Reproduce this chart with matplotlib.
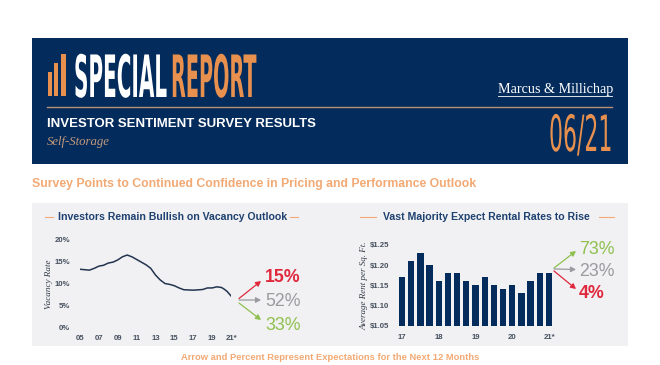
"""Self-storage investor sentiment report header with two small charts"""
import matplotlib.pyplot as plt
from matplotlib.patches import Rectangle
from matplotlib.patheffects import AbstractPathEffect
from matplotlib.text import Text
from matplotlib.transforms import Affine2D, Bbox

# Vacancy rate, 05 to 21*
vac_years = [2005, 2005.5, 2006, 2006.5, 2007, 2007.5, 2008, 2008.5, 2009, 2009.5,
             2010, 2010.5, 2011, 2011.5, 2012, 2012.5, 2013, 2013.5, 2014, 2014.5,
             2015, 2015.5, 2016, 2017, 2018, 2018.5, 2019, 2019.5, 2020, 2020.3,
             2020.6, 2021]
vac_rate = [13.2, 13.1, 13.0, 13.4, 13.9, 14.1, 14.6, 14.8, 15.3, 16.0,
            16.4, 16.0, 15.4, 14.8, 14.2, 13.4, 11.9, 10.8, 10.0, 9.8,
            9.5, 9.0, 8.6, 8.5, 8.65, 9.0, 9.0, 9.25, 9.1, 8.7,
            8.2, 7.2]
vac_ticks = [2005, 2007, 2009, 2011, 2013, 2015, 2017, 2019, 2021]
vac_ticklabels = ['05', '07', '09', '11', '13', '15', '17', '19', '21*']
vac_yticks = [0, 5, 10, 15, 20]

# Average rent per sq. ft., quarterly
rent = [1.17, 1.21, 1.23, 1.20, 1.16, 1.18, 1.18, 1.16, 1.15,
        1.17, 1.15, 1.14, 1.15, 1.13, 1.16, 1.18, 1.18]
rent_ticks = [0, 4, 8, 12, 16]
rent_ticklabels = ['17', '18', '19', '20', '21*']
rent_yticks = [1.05, 1.10, 1.15, 1.20, 1.25]

# Expectations for the next 12 months
vac_expect = ['15%', '52%', '33%']
rent_expect = ['73%', '23%', '4%']

NAVY = '#032b5c'
ORANGE = '#e8914f'
SOFT_ORANGE = '#f2a974'
PANEL = '#f1f1f3'
RED = '#e0283c'
GREY = '#9b9b9f'
GREEN = '#8fc04f'
TICK = '#46505f'


class Squeeze(AbstractPathEffect):
    """Narrow the glyphs of a text, the report title is a condensed face"""
    def __init__(self, sx):
        super().__init__()
        self.sx = sx

    def draw_path(self, renderer, gc, tpath, affine, rgbFace=None):
        renderer.draw_path(gc, tpath, Affine2D().scale(self.sx, 1) + affine, rgbFace)


class NarrowText(Text):
    """Text drawn squeezed, with an extent that says so"""
    def __init__(self, x, y, s, sx, **kwargs):
        super().__init__(x, y, s, path_effects=[Squeeze(sx)], **kwargs)
        self.sx = sx

    def get_window_extent(self, renderer=None, dpi=None):
        bb = super().get_window_extent(renderer, dpi)
        return Bbox.from_extents(bb.x0, bb.y0, bb.x0 + bb.width * self.sx, bb.y1)


def px_axes(x0, y0, x1, y1):
    return fig.add_axes([x0 / 660, 1 - y1 / 365, (x1 - x0) / 660, (y1 - y0) / 365])


def clean(ax):
    ax.set_facecolor('none')
    for s in ax.spines.values():
        s.set_visible(False)
    ax.tick_params(length=0, labelsize=5.6, labelcolor=TICK)
    for t in ax.get_xticklabels() + ax.get_yticklabels():
        t.set_fontweight('bold')


def arrow(start, end, color):
    bg.annotate('', xy=end, xytext=start,
                arrowprops=dict(arrowstyle='-|>,head_width=0.16,head_length=0.3',
                                color=color, lw=0.9, shrinkA=0, shrinkB=0))


plt.rcParams['font.family'] = ['Liberation Sans', 'DejaVu Sans']
fig = plt.figure(figsize=(6.6, 3.65), dpi=100, facecolor='white')

# page in pixel coordinates
bg = fig.add_axes([0, 0, 1, 1])
bg.set_xlim(0, 660)
bg.set_ylim(365, 0)
bg.axis('off')

bg.add_patch(Rectangle((32, 38), 596, 126, color=NAVY, lw=0))
bg.add_patch(Rectangle((32, 203), 596, 143, color=PANEL, lw=0))

# logo bars next to the title
bg.add_patch(Rectangle((47.5, 72), 4, 24, color=ORANGE, lw=0))
bg.add_patch(Rectangle((54, 63), 4, 33, color=ORANGE, lw=0))
bg.add_patch(Rectangle((61, 54), 5, 42, color=ORANGE, lw=0))

bg.add_artist(NarrowText(74, 97, 'SPECIAL', 0.343, color='white', fontsize=42,
                         family='Liberation Sans Narrow', fontweight='bold', va='baseline'))
bg.add_artist(NarrowText(171, 97, 'REPORT', 0.33, color=ORANGE, fontsize=42,
                         family='Liberation Sans Narrow', fontweight='bold', va='baseline'))

bg.text(498, 93, 'Marcus & Millichap', color='white', fontsize=10.2,
        family='Liberation Serif', va='baseline')
bg.plot([498, 612], [95.5, 95.5], color='white', lw=0.6)
bg.plot([47, 612], [107, 107], color='#b78f72', lw=1)

bg.text(47, 124, 'INVESTOR SENTIMENT SURVEY RESULTS', color='white', fontsize=9.5,
        fontweight='bold', va='center')
bg.text(47, 142, 'Self-Storage', color='#c49a7c', fontsize=9.2, style='italic',
        family='Liberation Serif', va='center')
bg.add_artist(NarrowText(549, 151, '06/21', 0.44, color=ORANGE, fontsize=36,
                         family='Liberation Sans Narrow', va='baseline'))

bg.text(32, 184, 'Survey Points to Continued Confidence in Pricing and Performance Outlook',
        color=SOFT_ORANGE, fontsize=8.8, fontweight='bold', va='center')

# panel headings
bg.text(58, 217, 'Investors Remain Bullish on Vacancy Outlook', color='#1f4170',
        fontsize=7.55, fontweight='bold', va='center')
bg.text(383, 217, 'Vast Majority Expect Rental Rates to Rise', color='#1f4170',
        fontsize=7.6, fontweight='bold', va='center')
for a, b in [(45, 53), (290, 298), (360, 376), (599, 614)]:
    bg.plot([a, b], [217, 217], color=SOFT_ORANGE, lw=0.8)

bg.text(330, 357, 'Arrow and Percent Represent Expectations for the Next 12 Months',
        color=SOFT_ORANGE, fontsize=6.75, fontweight='bold', ha='center', va='center')

# vacancy line
ax1 = px_axes(80, 239, 231, 328)
ax1.plot(vac_years, vac_rate, color='#23344f', lw=1.1)
ax1.set_xlim(2005, 2021)
ax1.set_ylim(0, 20)
ax1.set_xticks(vac_ticks, vac_ticklabels)
ax1.set_yticks(vac_yticks, [f'{v}%' for v in vac_yticks])
clean(ax1)
ax1.tick_params(axis='x', pad=5)
ax1.tick_params(axis='y', pad=7)
bg.text(49, 284, 'Vacancy Rate', color='#333b48', fontsize=6.6, style='italic',
        family='Liberation Serif', rotation=90, ha='center', va='center')

# rent bars
ax2 = px_axes(396, 245, 555, 325.7)
ax2.bar(range(len(rent)), rent, width=0.69, bottom=0, color=NAVY)
ax2.set_xlim(-0.65, 16.65)
ax2.set_ylim(1.05, 1.25)
ax2.set_xticks(rent_ticks, rent_ticklabels)
ax2.set_yticks(rent_yticks, [f'${v:.2f}' for v in rent_yticks])
clean(ax2)
ax2.tick_params(axis='x', pad=6)
ax2.tick_params(axis='y', pad=5)
bg.text(364, 286, 'Average Rent per Sq. Ft.', color='#333b48', fontsize=6.5, style='italic',
        family='Liberation Serif', rotation=90, ha='center', va='center')

# expectation arrows, vacancy
arrow((239, 298.5), (261, 281), RED)
arrow((239, 300), (261, 300), GREY)
arrow((239, 303), (261, 320), GREEN)
for label, y, c, w in zip(vac_expect, [278, 302, 325], [RED, GREY, GREEN], ['bold', 'normal', 'normal']):
    bg.text(265, y, label, color=c, fontsize=12.8, fontweight=w, va='center')

# expectation arrows, rent
arrow((554, 268), (576, 251), GREEN)
arrow((554, 269), (576, 269.5), GREY)
arrow((554, 271), (576, 289), RED)
for label, y, c, w in zip(rent_expect, [249, 271, 294], [GREEN, GREY, RED], ['normal', 'normal', 'bold']):
    bg.text(579, y, label, color=c, fontsize=12.8, fontweight=w, va='center')

fig.savefig('out.png', dpi=100)
